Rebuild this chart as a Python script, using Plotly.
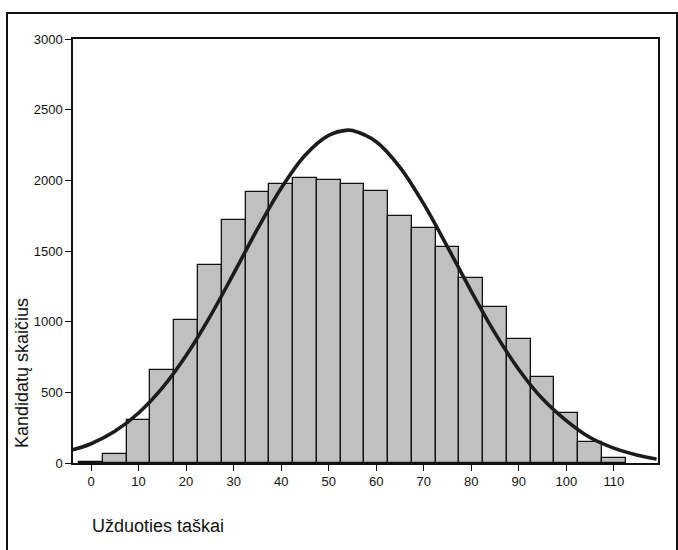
import plotly.graph_objects as go

# Histogram bins (centres) and counts
bin_centers = [0, 5, 10, 15, 20, 25, 30, 35, 40, 45, 50, 55, 60, 65, 70, 75, 80, 85, 90, 95, 100, 105, 110]
counts = [8, 62, 305, 661, 1012, 1404, 1716, 1914, 1973, 2014, 2002, 1973, 1924, 1751, 1661, 1531, 1312, 1104, 879, 612, 352, 149, 33]

# Fitted normal curve
curve_x = [-4, 0, 5, 10, 15, 20, 25, 30, 35, 40, 45, 50, 54, 55, 60, 65, 70, 75, 80, 85, 90, 95, 100, 105, 110, 115, 119]
curve_y = [92, 136, 224, 354, 531, 760, 1034, 1340, 1654, 1944, 2176, 2318, 2355, 2352, 2273, 2092, 1833, 1529, 1215, 919, 662, 454, 300, 180, 105, 55, 28]

x_ticks = [0, 10, 20, 30, 40, 50, 60, 70, 80, 90, 100, 110]
y_ticks = [0, 500, 1000, 1500, 2000, 2500, 3000]

FONT = "Liberation Sans, Arial, sans-serif"

fig = go.Figure()
fig.add_trace(go.Bar(
    x=bin_centers, y=counts, width=5,
    marker=dict(color="#c0c0c0", line=dict(color="#111111", width=1.3)),
    hoverinfo="x+y", showlegend=False,
))
fig.add_trace(go.Scatter(
    x=curve_x, y=curve_y, mode="lines",
    line=dict(color="#1c1c1c", width=3.6, shape="spline", smoothing=1.0),
    showlegend=False,
))

W, H = 678, 550
L, R, T, B = 73, 20, 39, 87
pw, ph = W - L - R, H - T - B

def px(xp):
    return (xp - L) / pw

def py(yp):
    return (H - B - yp) / ph

fig.update_layout(
    width=W, height=H,
    margin=dict(l=L, r=R, t=T, b=B),
    paper_bgcolor="white", plot_bgcolor="white",
    font=dict(family=FONT, size=13, color="#111111"),
    bargap=0,
    xaxis=dict(
        range=[-3.8, 119.3], tickvals=x_ticks, ticktext=[str(v) for v in x_ticks],
        ticks="outside", ticklen=6, tickcolor="#111111", tickwidth=1,
        showline=True, linecolor="#111111", linewidth=1.5, mirror=True,
        showgrid=False, zeroline=False, tickfont=dict(size=13),
    ),
    yaxis=dict(
        range=[0, 3000], tickvals=y_ticks, ticktext=[str(v) for v in y_ticks],
        ticks="outside", ticklen=6, tickcolor="#111111", tickwidth=1,
        showline=True, linecolor="#111111", linewidth=1.5, mirror=True,
        showgrid=False, zeroline=False, tickfont=dict(size=13),
    ),
    shapes=[dict(
        type="rect", xref="paper", yref="paper",
        x0=px(7), x1=px(677), y0=py(555), y1=py(13),
        line=dict(color="#111111", width=2), fillcolor="rgba(0,0,0,0)", layer="below",
    )],
    annotations=[
        dict(text="Užduoties taškai", xref="paper", yref="paper",
             x=px(90), y=py(526), xanchor="left", yanchor="middle",
             showarrow=False, font=dict(size=18, family=FONT, color="#111111")),
        dict(text="Kandidatų skaičius", xref="paper", yref="paper",
             x=px(22), y=py(373), xanchor="center", yanchor="middle", textangle=-90,
             showarrow=False, font=dict(size=18, family=FONT, color="#111111")),
    ],
)

fig.write_html("out.html", config={"displayModeBar": False},
               post_script="document.body.style.margin='0';document.body.style.overflow='hidden';")
